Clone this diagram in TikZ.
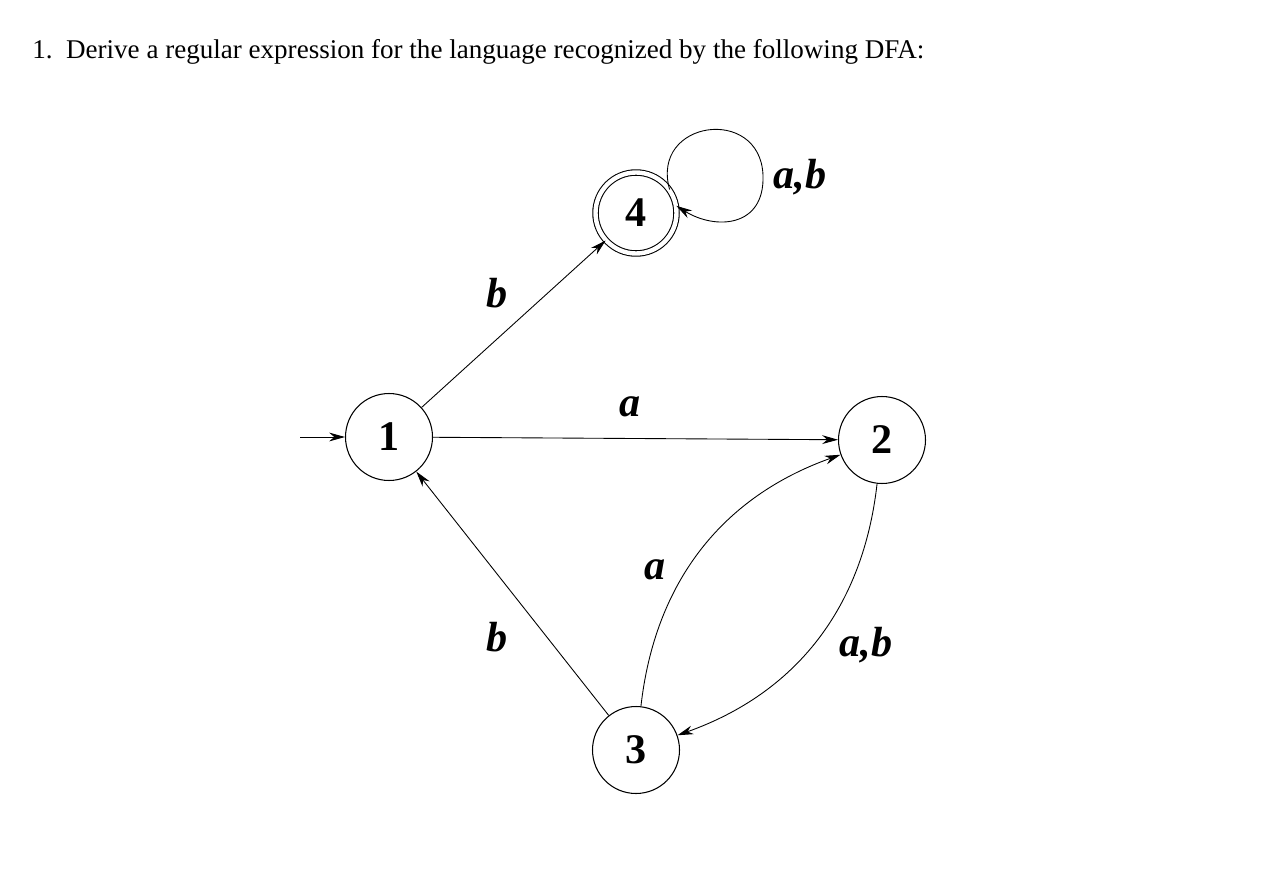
\documentclass[tikz,border=0pt]{standalone}
\usepackage{fontspec}
\setmainfont{Liberation Serif}
\usetikzlibrary{arrows.meta}
\begin{document}
\begin{tikzpicture}[x=0.02cm,y=-0.02cm,
  st/.style={circle,draw,line width=0.6pt,minimum size=1.74cm,inner sep=0pt,font=\fontsize{24}{24}\selectfont\bfseries},
  lab/.style={font=\fontsize{24}{24}\selectfont\bfseries\itshape},
  every path/.style={line width=0.5pt},
  tr/.style={-{Stealth[length=9pt,width=5pt]}}]
\useasboundingbox (0,0) rectangle (1265,879);
\node[anchor=west,font=\fontsize{15.4}{15.4}\selectfont] (t) at (26,52) {1.\ \ Derive a regular expression for the language recognized by the following DFA:};
\node[st] (1) at (389,437) {1};
\node[st] (2) at (882,440) {2};
\node[st] (3) at (636,750) {3};
\node[st,double,double distance=2.5pt,minimum size=1.62cm] (4) at (636,213) {4};
\coordinate (s) at (300,437);
\draw[tr] (s) -- (1);
\draw[tr] (1) -- (4);
\draw[tr] (1) -- (2);
\draw[tr] (3) -- (1);
\draw[tr] (3) to[bend left=32] (2);
\draw[tr] (2) to[bend left=32] (3);
\draw[tr] (4.35) .. controls (650,120) and (760,105) .. (763,175) .. controls (765,228) and (715,230) .. (4.10);
\node[lab] at (497,293) {b};
\node[lab] at (630,407) {a};
\node[lab] at (655,570) {a};
\node[lab] at (497,637) {b};
\node[lab] at (866,645) {a,b};
\node[lab] at (800,177) {a,b};
\end{tikzpicture}
\end{document}
